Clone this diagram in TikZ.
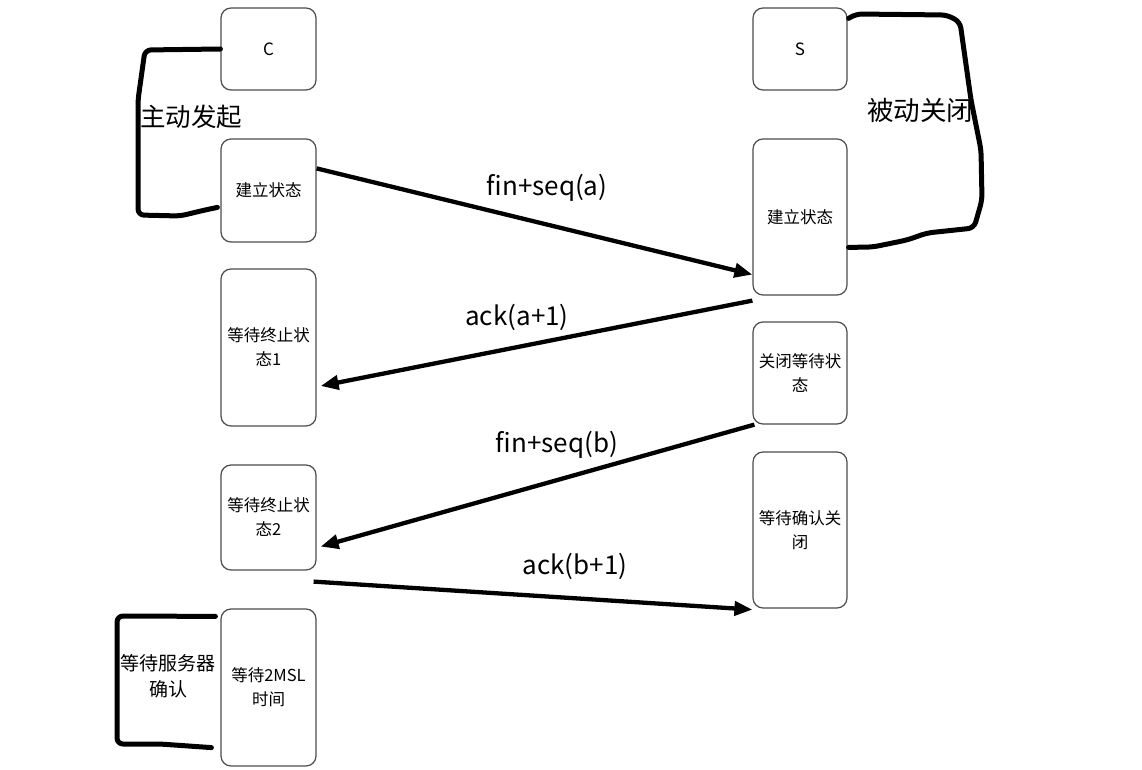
\documentclass[tikz,border=0pt]{standalone}
\usepackage{fontspec}
\newfontfamily\cjk{Noto Sans CJK SC}
\usetikzlibrary{arrows.meta,calc}
\begin{document}
\begin{tikzpicture}[x=1pt,y=-1pt,
  box/.style={draw=black!70,line width=1.2pt,rounded corners=10pt,fill=white,
    minimum width=95pt,inner sep=0pt,align=center,
    font=\cjk\fontsize{16.5}{24}\selectfont},
  msg/.style={line width=4.3pt,-{Triangle[length=18pt,width=14pt]}},
  lbl/.style={font=\cjk\fontsize{26}{30}\selectfont,inner sep=0pt},
  brk/.style={line width=5pt,line cap=round,line join=round,rounded corners=6pt},
  blbl/.style={font=\cjk\fontsize{25.5}{30}\selectfont,inner sep=0pt}]
\useasboundingbox[fill=white] (0,0) rectangle (1142,770);
% left column
\node[box,minimum height=82pt,font=\cjk\fontsize{17}{18}\selectfont] (C) at (268.5,49) {C};
\node[box,minimum height=103pt] (L1) at (268.5,190.5) {建立状态};
\node[box,minimum height=157pt] (L2) at (268.5,347.5) {等待终止状\\态1};
\node[box,minimum height=105pt] (L3) at (268.5,517.5) {等待终止状\\态2};
\node[box,minimum height=157pt] (L4) at (268.5,687.5) {等待2MSL\\时间};
% right column
\node[box,minimum width=94pt,minimum height=82pt,font=\cjk\fontsize{17}{18}\selectfont] (S) at (800,49) {S};
\node[box,minimum width=94pt,minimum height=156pt] (R1) at (800,217) {建立状态};
\node[box,minimum width=94pt,minimum height=102pt] (R2) at (800,373) {关闭等待状\\态};
\node[box,minimum width=94pt,minimum height=156pt] (R3) at (800,530) {等待确认关\\闭};
% messages
\draw[msg] ([yshift=-30pt]L1.north east) -- ([yshift=21pt]R1.south west);
\draw[msg] ([yshift=-5pt]R1.south west) -- ([xshift=4pt,yshift=-38.5pt]L2.east);
\draw[msg] ([xshift=2pt]R2.south west) -- ([xshift=4pt,yshift=24pt]L3.south east);
\draw[msg] ([xshift=-3pt,yshift=-11pt]L3.south east) -- ([yshift=-1pt]R3.south west);
\node[lbl] (m1) at (547,188) {fin+seq(a)};
\node[lbl] (m2) at (517,317) {ack(a+1)};
\node[lbl] (m3) at (557,445) {fin+seq(b)};
\node[lbl] (m4) at (575,566) {ack(b+1)};
% brackets
\draw[brk] (C.west) -- (145,50) -- (138,100) -- (138,215) -- (180,216) -- (205,210) -- ([xshift=-3pt,yshift=-69pt]L1.north west);
\node[blbl] (b1) at (191,117) {主动发起};
\draw[brk] ([xshift=1pt,yshift=-11pt]S.north east) -- (856,14) -- (947,15) -- (960,22) -- (971,100) -- (981,150) -- (982,200) -- (974,228) -- (927,233) -- (907,240) -- (873,247) -- ([xshift=1pt,yshift=-109pt]R1.north east);
\node[blbl,font=\cjk\fontsize{26.5}{30}\selectfont] (b2) at (920,110) {被动关闭};
\draw[brk] ([xshift=-5pt,yshift=-8pt]L4.north west) -- (117,616) -- (117,744) -- (160,744) -- ([xshift=-9pt,yshift=19pt]L4.south west);
\node[font=\cjk\fontsize{19}{26}\selectfont,align=center,inner sep=0pt] (b3) at (168,676) {等待服务器\\确认};
\end{tikzpicture}
\end{document}
